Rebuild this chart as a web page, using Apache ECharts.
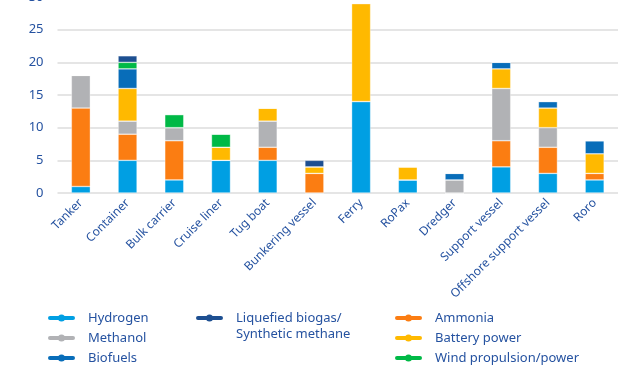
<!DOCTYPE html>
<html>
<head>
<meta charset="utf-8">
<script src="https://cdn.jsdelivr.net/npm/echarts@6/dist/echarts.min.js"></script>
<style>
  html, body { margin: 0; padding: 0; background: #fff; }
</style>
</head>
<body>
<!-- stacked bars: fuel options per vessel type -->
<div id="chart" style="width: 627px; height: 376px"></div>
<script>
var categories = ["Tanker", "Container", "Bulk carrier", "Cruise liner", "Tug boat", "Bunkering vessel",
  "Ferry", "RoPax", "Dredger", "Support vessel", "Offshore support vessel", "Roro"];

var hydrogen = [1, 5, 2, 5, 5, 0, 14, 2, 0, 4, 3, 2];
var ammonia  = [12, 4, 6, 0, 2, 3, 0, 0, 0, 4, 4, 1];
var methanol = [5, 2, 2, 0, 4, 0, 0, 0, 2, 8, 3, 0];
var battery  = [0, 5, 0, 2, 2, 1, 15, 2, 0, 3, 3, 3];
var biofuels = [0, 3, 0, 0, 0, 0, 0, 0, 1, 1, 1, 2];
var wind     = [0, 1, 2, 2, 0, 0, 0, 0, 0, 0, 0, 0];
var biogas   = [0, 1, 0, 0, 0, 1, 0, 0, 0, 0, 0, 0];

var yTicks = [0, 5, 10, 15, 20, 25, 30];

var textBlue = "#2552a0";
var font = "Noto Sans";
// thick line with a dot in the middle
var lineIcon = "path://M2,2 L25,2 A2,2 0 0 1 25,6 L2,6 A2,2 0 0 1 2,2 Z M10,4 A3.5,3.5 0 1 1 17,4 A3.5,3.5 0 1 1 10,4 Z";

var chart = echarts.init(document.getElementById("chart"));

function bar(name, data, color) {
  return {
    name: name,
    type: "bar",
    stack: "total",
    barWidth: 19,
    data: data,
    itemStyle: { color: color, borderColor: "rgba(255,255,255,0.6)", borderWidth: 0.6 },
  };
}

function legendCol(left, names) {
  return {
    orient: "vertical",
    left: left,
    top: 308,
    padding: 0,
    itemWidth: 27,
    itemHeight: 8,
    itemGap: 0,
    icon: lineIcon,
    itemStyle: { borderWidth: 0 },
    selectedMode: false,
    data: names,
    textStyle: { color: textBlue, fontFamily: font, fontSize: 13, lineHeight: 20, padding: [0, 0, 0, 8] },
  };
}

var option = {
  animation: false,
  grid: { left: 57.5, right: 9, top: -3, bottom: 183, outerBoundsMode: "none" },
  legend: [
    legendCol(48, ["Hydrogen", "Methanol", "Biofuels"]),
    Object.assign(legendCol(196, ["Liquefied biogas/Synthetic methane"]), {
      formatter: function () { return "Liquefied biogas/"; },
    }),
    legendCol(395, ["Ammonia", "Battery power", "Wind propulsion/power"]),
  ],
  graphic: [
    {
      type: "text",
      left: 236,
      top: 328,
      style: { text: "Synthetic methane", fill: textBlue, font: "13px Noto Sans" },
    },
  ],
  xAxis: {
    type: "category",
    data: categories,
    axisLine: { show: false },
    axisTick: { show: false },
    axisLabel: { rotate: 45, color: textBlue, fontFamily: font, fontSize: 12, margin: 8, interval: 0 },
  },
  yAxis: {
    type: "value",
    min: yTicks[0],
    max: yTicks[yTicks.length - 1],
    interval: 5,
    axisLabel: { color: textBlue, fontFamily: font, fontSize: 13, margin: 14 },
    splitLine: { lineStyle: { color: "#dcdcdc", width: 1.5 } },
  },
  series: [
    bar("Hydrogen", hydrogen, "#009fe3"),
    bar("Ammonia", ammonia, "#fb7d12"),
    bar("Methanol", methanol, "#b1b2b5"),
    bar("Battery power", battery, "#ffb900"),
    bar("Biofuels", biofuels, "#086db9"),
    bar("Wind propulsion/power", wind, "#00b946"),
    bar("Liquefied biogas/Synthetic methane", biogas, "#1d4f91"),
  ],
};

chart.setOption(option);
</script>
</body>
</html>
